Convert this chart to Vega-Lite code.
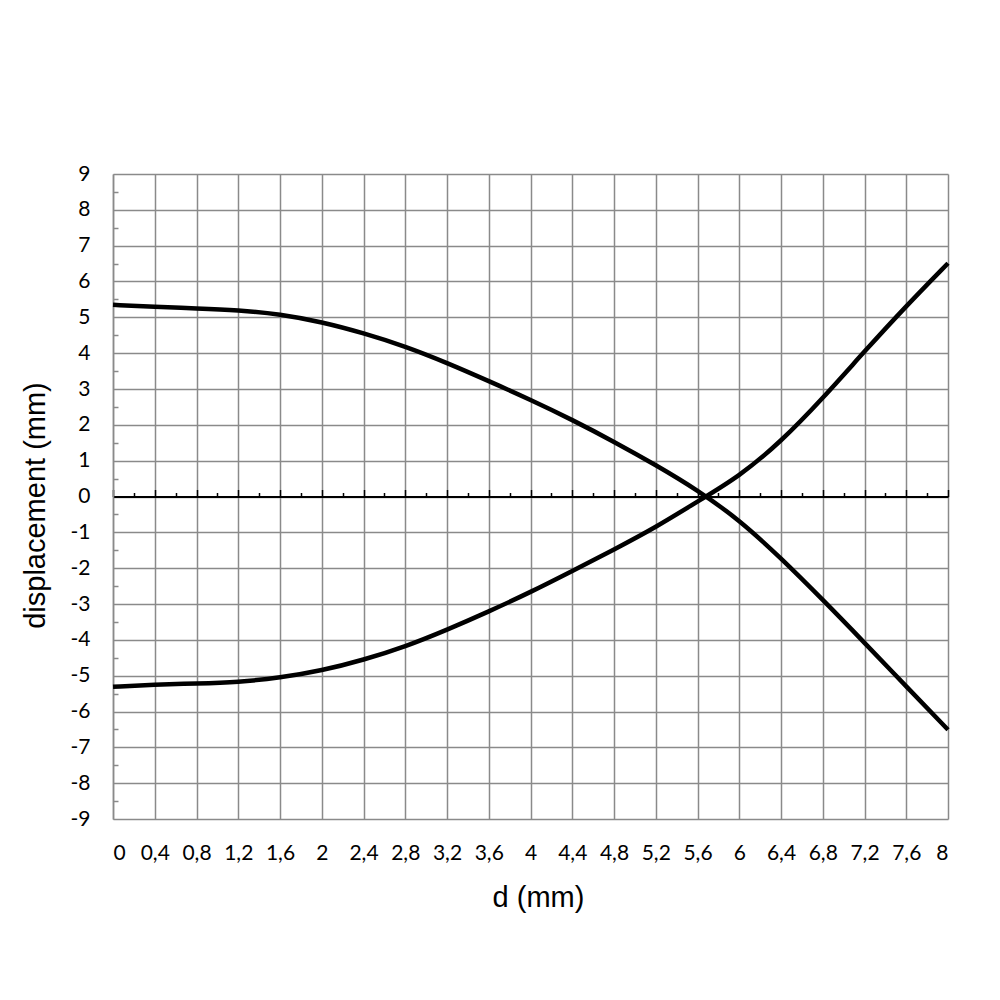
{
  "$schema": "https://vega.github.io/schema/vega-lite/v6.json",
  "background": "#ffffff",
  "autosize": "none",
  "padding": {"left": 113, "top": 174, "right": 52, "bottom": 181},
  "width": 835,
  "height": 645,
  "data": {
    "values": [
      {"d": 0, "disp": 5.35, "series": "upper"},
      {"d": 0.4, "disp": 5.29, "series": "upper"},
      {"d": 0.8, "disp": 5.25, "series": "upper"},
      {"d": 1.2, "disp": 5.2, "series": "upper"},
      {"d": 1.6, "disp": 5.09, "series": "upper"},
      {"d": 2.0, "disp": 4.87, "series": "upper"},
      {"d": 2.4, "disp": 4.56, "series": "upper"},
      {"d": 2.8, "disp": 4.19, "series": "upper"},
      {"d": 3.2, "disp": 3.73, "series": "upper"},
      {"d": 3.6, "disp": 3.22, "series": "upper"},
      {"d": 4.0, "disp": 2.7, "series": "upper"},
      {"d": 4.4, "disp": 2.14, "series": "upper"},
      {"d": 4.8, "disp": 1.53, "series": "upper"},
      {"d": 5.2, "disp": 0.88, "series": "upper"},
      {"d": 5.6, "disp": 0.18, "series": "upper"},
      {"d": 6.0, "disp": -0.65, "series": "upper"},
      {"d": 6.4, "disp": -1.72, "series": "upper"},
      {"d": 6.8, "disp": -2.88, "series": "upper"},
      {"d": 7.2, "disp": -4.08, "series": "upper"},
      {"d": 7.6, "disp": -5.3, "series": "upper"},
      {"d": 8.0, "disp": -6.51, "series": "upper"},
      {"d": 0, "disp": -5.31, "series": "lower"},
      {"d": 0.4, "disp": -5.25, "series": "lower"},
      {"d": 0.8, "disp": -5.22, "series": "lower"},
      {"d": 1.2, "disp": -5.18, "series": "lower"},
      {"d": 1.6, "disp": -5.06, "series": "lower"},
      {"d": 2.0, "disp": -4.86, "series": "lower"},
      {"d": 2.4, "disp": -4.56, "series": "lower"},
      {"d": 2.8, "disp": -4.19, "series": "lower"},
      {"d": 3.2, "disp": -3.72, "series": "lower"},
      {"d": 3.6, "disp": -3.21, "series": "lower"},
      {"d": 4.0, "disp": -2.67, "series": "lower"},
      {"d": 4.4, "disp": -2.08, "series": "lower"},
      {"d": 4.8, "disp": -1.48, "series": "lower"},
      {"d": 5.2, "disp": -0.86, "series": "lower"},
      {"d": 5.6, "disp": -0.14, "series": "lower"},
      {"d": 6.0, "disp": 0.56, "series": "lower"},
      {"d": 6.4, "disp": 1.53, "series": "lower"},
      {"d": 6.8, "disp": 2.74, "series": "lower"},
      {"d": 7.2, "disp": 4.05, "series": "lower"},
      {"d": 7.6, "disp": 5.32, "series": "lower"},
      {"d": 8.0, "disp": 6.51, "series": "lower"}
    ]
  },
  "encoding": {
    "y": {
      "field": "disp",
      "type": "quantitative",
      "scale": {"domain": [-9, 9], "nice": false, "zero": false},
      "axis": {
        "values": [-9, -8.5, -8, -7.5, -7, -6.5, -6, -5.5, -5, -4.5, -4, -3.5, -3, -2.5, -2, -1.5, -1, -0.5, 0, 0.5, 1, 1.5, 2, 2.5, 3, 3.5, 4, 4.5, 5, 5.5, 6, 6.5, 7, 7.5, 8, 8.5, 9],
        "labelExpr": "datum.value % 1 == 0 ? '' + datum.value : ''",
        "labelOverlap": false,
        "labelFont": "Lato",
        "labelFontSize": 21,
        "labelColor": "#000000",
        "labelPadding": 23,
        "grid": true,
        "gridColor": "#8a8a8a",
        "gridWidth": 1.5,
        "gridOpacity": {"condition": {"test": "datum.value % 1 != 0", "value": 0}, "value": 1},
        "domainColor": "#8a8a8a",
        "domainWidth": 1.5,
        "tickColor": "#8a8a8a",
        "tickWidth": 1.5,
        "tickSize": {"condition": {"test": "datum.value % 1 != 0", "value": -5}, "value": 0},
        "title": "displacement (mm)",
        "titleFont": "Liberation Sans",
        "titleFontSize": 29,
        "titleFontWeight": "normal",
        "titleColor": "#000000",
        "titlePadding": 20,
        "titleY": 331
      }
    },
    "detail": {"field": "series"}
  },
  "layer": [
    {
      "mark": {"type": "line", "opacity": 0},
      "encoding": {
        "x": {
          "field": "d",
          "type": "quantitative",
          "scale": {"domain": [0, 8], "nice": false, "zero": false},
          "axis": {
            "orient": "top",
            "offset": -322.5,
            "values": [0, 0.2, 0.4, 0.6, 0.8, 1, 1.2, 1.4, 1.6, 1.8, 2, 2.2, 2.4, 2.6, 2.8, 3, 3.2, 3.4, 3.6, 3.8, 4, 4.2, 4.4, 4.6, 4.8, 5, 5.2, 5.4, 5.6, 5.8, 6, 6.2, 6.4, 6.6, 6.8, 7, 7.2, 7.4, 7.6, 7.8, 8],
            "labels": false,
            "grid": false,
            "title": null,
            "domainColor": "#000000",
            "domainWidth": 2,
            "tickColor": "#000000",
            "tickWidth": 1.5,
            "tickSize": {"condition": {"test": "abs(datum.value / 0.4 - round(datum.value / 0.4)) > 0.01", "value": 4}, "value": 7}
          }
        }
      }
    },
    {
      "mark": {"type": "line", "color": "#000000", "strokeWidth": 4.5, "interpolate": "basis"},
      "encoding": {
        "x": {
          "field": "d",
          "type": "quantitative",
          "axis": {
            "orient": "bottom",
            "values": [0, 0.4, 0.8, 1.2, 1.6, 2, 2.4, 2.8, 3.2, 3.6, 4, 4.4, 4.8, 5.2, 5.6, 6, 6.4, 6.8, 7.2, 7.6, 8],
            "labelExpr": "replace(format(datum.value, '.1~f'), '.', ',')",
            "labelOverlap": false,
            "labelFont": "Lato",
            "labelFontSize": 21,
            "labelColor": "#000000",
            "labelPadding": 23,
            "ticks": false,
            "domain": false,
            "grid": true,
            "gridColor": "#8a8a8a",
            "gridWidth": 1.5,
            "title": "d (mm)",
            "titleFont": "Liberation Sans",
            "titleFontSize": 29,
            "titleFontWeight": "normal",
            "titleColor": "#000000",
            "titlePadding": 20,
            "titleX": 425
          }
        }
      }
    }
  ],
  "resolve": {"axis": {"x": "independent"}},
  "config": {"view": {"stroke": null}}
}
